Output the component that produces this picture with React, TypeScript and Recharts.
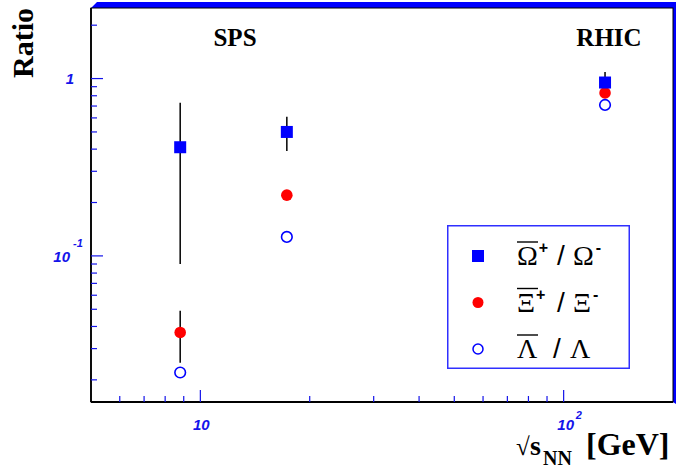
import { ScatterChart, Scatter, XAxis, YAxis, ErrorBar, Legend, Customized } from 'recharts';

// sqrt(s_NN) in GeV: SPS (Pb+Pb 8.8, 17.3) and RHIC (Au+Au 130)
const energies = [8.8, 17.3, 130];
const omegaRatio = [0.41, 0.5, 0.95];
const omegaErr = [0.32, 0.11, 0.14];
const xiRatio = [0.037, 0.22, 0.83];
const xiErr = [0.012, 0, 0];
const lambdaRatio = [0.022, 0.128, 0.71];

const xTicks = [6, 7, 8, 9, 10, 20, 30, 40, 50, 60, 70, 80, 90, 100];
const yTicks = [0.02, 0.03, 0.04, 0.05, 0.06, 0.07, 0.08, 0.09, 0.1, 0.2, 0.3, 0.4, 0.5, 0.6, 0.7, 0.8, 0.9, 1, 2];

const W = 676;
const H = 475;
const LEFT = 91;
const TOP = 8;
const RIGHT = 673;
const BOTTOM = 402;

const BLUE = '#0000ff';
const TICK_BLUE = '#1414ea';
const serif = '"Liberation Serif", "Times New Roman", serif';
const sans = '"Liberation Sans", Arial, sans-serif';

const omegaData = energies.map((e, i) => ({ x: e, y: omegaRatio[i], err: omegaErr[i] }));
const xiData = energies.map((e, i) => ({ x: e, y: xiRatio[i], err: xiErr[i] }));
const lambdaData = energies.map((e, i) => ({ x: e, y: lambdaRatio[i] }));

const labelStyle = { fontFamily: sans, fontWeight: 'bold', fontStyle: 'italic', fill: TICK_BLUE } as const;

const XTick = (props: any) => {
  const { x, y, payload } = props;
  const v = payload.value;
  const major = v === 10 || v === 100;
  return (
    <g>
      <line x1={x} x2={x} y1={y} y2={y - (major ? 12 : 6)} stroke={TICK_BLUE} strokeWidth={1.2} />
      {v === 10 && (
        <text x={x + 1} y={y + 28} textAnchor="middle" fontSize={15} {...labelStyle}>10</text>
      )}
      {v === 100 && (
        <g>
          <text x={x + 2} y={y + 28} textAnchor="middle" fontSize={15} {...labelStyle}>10</text>
          <text x={x + 12} y={y + 17} fontSize={11} {...labelStyle}>2</text>
        </g>
      )}
    </g>
  );
};

const YTick = (props: any) => {
  const { x, y, payload } = props;
  const v = payload.value;
  const major = v === 1 || v === 0.1;
  return (
    <g>
      <line x1={x} x2={x + (major ? 12 : 6)} y1={y} y2={y} stroke={TICK_BLUE} strokeWidth={1.2} />
      {v === 1 && (
        <text x={x - 17} y={y + 5} textAnchor="end" fontSize={15} {...labelStyle}>1</text>
      )}
      {v === 0.1 && (
        <g>
          <text x={x - 21} y={y + 6} textAnchor="end" fontSize={15} {...labelStyle}>10</text>
          <text x={x - 18} y={y - 9} fontSize={11} {...labelStyle}>-1</text>
        </g>
      )}
    </g>
  );
};

const square = (p: any) => <rect x={p.cx - 6} y={p.cy - 6} width={12} height={12} fill={BLUE} />;
const dot = (p: any) => <circle cx={p.cx} cy={p.cy} r={5.8} fill="#ff0000" />;
const ring = (p: any) => <circle cx={p.cx} cy={p.cy} r={5.3} fill="none" stroke={BLUE} strokeWidth={1.6} />;

const legendRows = [
  { name: 'Ω', sup1: '+', sup2: '-', kind: 'square' },
  { name: 'Ξ', sup1: '+', sup2: '-', kind: 'dot' },
  { name: 'Λ', sup1: '', sup2: '', kind: 'ring' },
];

const LegendBox = () => (
  <svg width={183} height={144} style={{ display: 'block' }}>
    <rect x={0.75} y={0.75} width={181.5} height={142.5} fill="#fff" stroke="#3030ff" strokeWidth={1.5} />
    {legendRows.map((r, i) => {
      const cy = 31 + i * 46.5;
      const glyph =
        r.kind === 'square' ? <rect x={25} y={cy - 6} width={12} height={12} fill={BLUE} /> :
        r.kind === 'dot' ? <circle cx={31} cy={cy} r={5.5} fill="#ff0000" /> :
        <circle cx={31} cy={cy} r={5} fill="none" stroke={BLUE} strokeWidth={1.5} />;
      const slashX = r.sup1 ? 110 : 106;
      const secondX = r.sup1 ? 126 : 123;
      return (
        <g key={r.name}>
          {glyph}
          <line x1={70} x2={91} y1={cy - 14} y2={cy - 14} stroke="#000" strokeWidth={1.4} />
          <text x={70} y={cy + 9} fontFamily={serif} fontSize={28} fill="#000">
            {r.name}
            {r.sup1 && <tspan dx={1} dy={-12} fontFamily={sans} fontWeight="bold" fontSize={16}>{r.sup1}</tspan>}
          </text>
          <text x={slashX} y={cy + 9} fontFamily={sans} fontSize={28} fill="#000">/</text>
          <text x={secondX} y={cy + 9} fontFamily={serif} fontSize={28} fill="#000">
            {r.name}
            {r.sup2 && <tspan dx={2} dy={-12} fontFamily={sans} fontWeight="bold" fontSize={16}>{r.sup2}</tspan>}
          </text>
        </g>
      );
    })}
  </svg>
);

const Decorations = () => (
  <g>
    <polygon
      points={`${LEFT},${TOP} ${LEFT + 6},${TOP - 6} ${W},${TOP - 6} ${W},${BOTTOM + 2} ${RIGHT},${BOTTOM} ${RIGHT},${TOP}`}
      fill={BLUE}
    />
    <rect x={LEFT} y={TOP} width={RIGHT - LEFT} height={BOTTOM - TOP} fill="none" stroke="#000" strokeWidth={1} />
    <line x1={LEFT} x2={LEFT} y1={TOP} y2={BOTTOM} stroke="#000" strokeWidth={1.8} />
    <line x1={LEFT} x2={RIGHT} y1={BOTTOM} y2={BOTTOM} stroke="#000" strokeWidth={1.8} />
    <text x={235} y={46} textAnchor="middle" fontFamily={serif} fontWeight="bold" fontSize={25} fill="#000">SPS</text>
    <text x={609} y={46} textAnchor="middle" fontFamily={serif} fontWeight="bold" fontSize={25} fill="#000">RHIC</text>
    <text transform="translate(33,43) rotate(-90)" textAnchor="middle" fontFamily={serif} fontWeight="bold" fontSize={30} fill="#000">Ratio</text>
    <text x={516} y={455} fontFamily={serif} fontSize={25} fill="#000">√</text>
    <text x={530} y={455} fontFamily={serif} fontWeight="bold" fontSize={28} fill="#000">s</text>
    <text x={543} y={465} fontFamily={serif} fontWeight="bold" fontSize={20} fill="#000">NN</text>
    <text x={586} y={455} fontFamily={serif} fontWeight="bold" fontSize={32} fill="#000">[GeV]</text>
  </g>
);

export default function App() {
  return (
    <div style={{ position: 'absolute', left: 0, top: 0, width: W, height: H, background: '#fff' }}>
      <ScatterChart
        width={W}
        height={H}
        margin={{ top: TOP, right: W - RIGHT, left: LEFT - 40, bottom: H - BOTTOM - 30 }}
      >
        <Customized component={Decorations} />
        <XAxis
          type="number"
          dataKey="x"
          scale="log"
          domain={[5, 200]}
          allowDataOverflow
          ticks={xTicks}
          interval={0}
          tick={XTick}
          tickSize={0}
          tickMargin={0}
          axisLine={false}
          height={30}
        />
        <YAxis
          type="number"
          dataKey="y"
          scale="log"
          domain={[0.015, 2.5]}
          allowDataOverflow
          ticks={yTicks}
          interval={0}
          tick={YTick}
          tickSize={0}
          tickMargin={0}
          axisLine={false}
          width={40}
        />
        <Legend
          layout="vertical"
          align="center"
          verticalAlign="middle"
          content={LegendBox}
          wrapperStyle={{ position: 'absolute', left: 447, top: 225, width: 183, height: 144 }}
        />
        <Scatter name="Xi" data={xiData} shape={dot} isAnimationActive={false}>
          <ErrorBar dataKey="err" direction="y" width={0} stroke="#000" strokeWidth={1.5} />
        </Scatter>
        <Scatter name="Lambda" data={lambdaData} shape={ring} isAnimationActive={false} />
        <Scatter name="Omega" data={omegaData} shape={square} isAnimationActive={false}>
          <ErrorBar dataKey="err" direction="y" width={0} stroke="#000" strokeWidth={1.5} />
        </Scatter>
      </ScatterChart>
    </div>
  );
}
